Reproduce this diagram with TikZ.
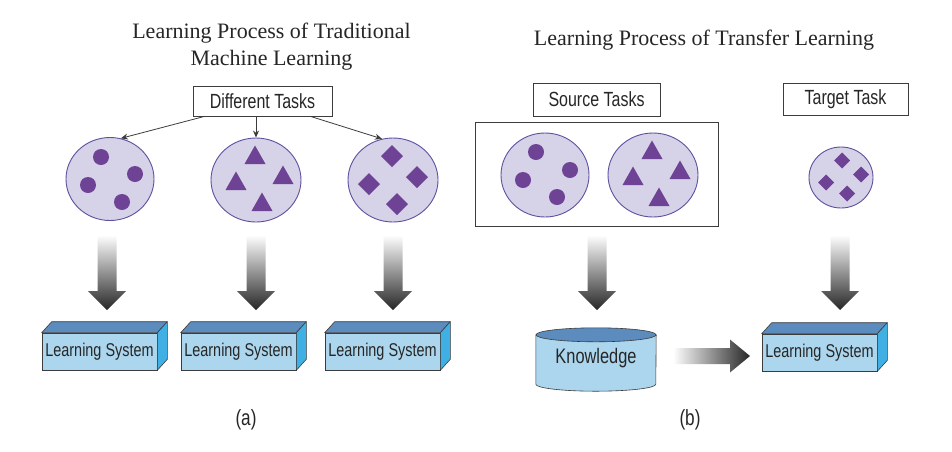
\documentclass[tikz,border=0pt]{standalone}
\usepackage{fontspec}
\setmainfont{Liberation Serif}
\newfontfamily\sfn[FakeStretch=0.78]{Liberation Sans}
\usetikzlibrary{shapes.geometric,arrows.meta,calc}
\definecolor{circfill}{RGB}{214,210,232}
\definecolor{circdraw}{RGB}{95,80,160}
\definecolor{shp}{RGB}{110,66,148}
\definecolor{lsfrontc}{RGB}{172,214,238}
\definecolor{lstopc}{RGB}{92,140,190}
\definecolor{lssidec}{RGB}{64,176,228}
\definecolor{edgec}{RGB}{60,60,60}
\begin{document}
\begin{tikzpicture}[x=1pt,y=-1pt,
  taskc/.style={ellipse, draw=circdraw, fill=circfill, line width=0.9pt, inner sep=0pt},
  lbox/.style={draw=edgec, line width=0.7pt, inner sep=0pt, font=\sfn\fontsize{20.5}{24}\selectfont, text=black!85},
  lsfront/.style={draw=edgec, fill=lsfrontc, line width=0.6pt, minimum width=115pt, minimum height=37pt, inner sep=0pt, font=\sfn\fontsize{18.5}{21}\selectfont, text=black!85},
  lstop/.style={draw=edgec, fill=lstopc, line width=0.6pt, line join=round},
  lsside/.style={draw=edgec, fill=lssidec, line width=0.6pt, line join=round},
  thinarrow/.style={draw=edgec, line width=0.8pt, -{Stealth[length=7pt,width=6pt]}},
  titlefont/.style={font=\fontsize{22}{27}\selectfont, text=black!85, align=center},
  pics/pdot/.style={code={\fill[shp] (0,0) circle (8);}},
  pics/ptri/.style={code={\fill[shp] (-10.5,7) -- (10.5,7) -- (0,-11.5) -- cycle;}},
  pics/pdia/.style={code={\fill[shp] (-#1,0) -- (0,-#1) -- (#1,0) -- (0,#1) -- cycle;}},
  pics/gdown/.style={code={\shade[top color=white, bottom color=black!85]
     (-9.5,-75) -- (9.5,-75) -- (9.5,-19) -- (19,-19) -- (0,0) -- (-19,-19) -- (-9.5,-19) -- cycle;}},
  pics/gright/.style={code={\shade[left color=white, right color=black!85]
     (-77,-8) -- (-20,-8) -- (-20,-16.5) -- (0,0) -- (-20,16.5) -- (-20,8) -- (-77,8) -- cycle;}}
]
\useasboundingbox[fill=white] (0,0) rectangle (952,451);

% titles
\node[titlefont] (t1) at (271.5,46.5) {Learning Process of Traditional\\Machine Learning};
\node[titlefont, anchor=base] (t2) at (704,45) {Learning Process of Transfer Learning};

% ---------- (a) ----------
\node[lbox, minimum width=139pt, minimum height=30pt] (dt) at (262.5,101) {Different Tasks};

\node[taskc, minimum width=88pt, minimum height=83pt] (c1) at (110,179) {};
\node[taskc, minimum width=90pt, minimum height=84pt] (c2) at (256,180) {};
\node[taskc, minimum width=90pt, minimum height=84pt] (c3) at (393,180) {};

\draw[thinarrow] ([xshift=12pt]dt.south west) -- (c1.75);
\draw[thinarrow] (dt.south -| c2.north) -- (c2.north);
\draw[thinarrow] ([xshift=-22pt]dt.south east) -- (c3.105);

\foreach \dx/\dy in {-9/-22, 25/-5, -22/6, 12/23} \pic at ($(c1)+(\dx,\dy)$) {pdot};
\foreach \dx/\dy in {-1/-23, -20/3, 27/-3, 6/24} \pic at ($(c2)+(\dx,\dy)$) {ptri};
\foreach \dx/\dy in {-1/-24, -24/4, 24/-3, 4/24} \pic at ($(c3)+(\dx,\dy)$) {pdia=11};

\pic at (107,310) {gdown};
\pic at (256,310) {gdown};
\pic at (393,310) {gdown};

\foreach \n/\x in {ls1/99.5, ls2/238.5, ls3/382.5} {
  \node[lsfront] (\n) at (\x,351.5) {Learning System};
  \filldraw[lstop] (\n.north west) -- ++(10,-11) -- ([shift={(10,-11)}]\n.north east) -- (\n.north east) -- cycle;
  \filldraw[lsside] (\n.north east) -- ++(10,-11) -- ([shift={(10,-11)}]\n.south east) -- (\n.south east) -- cycle;
}

\node[font=\sfn\fontsize{22}{24}\selectfont, text=black!85] (la) at (246,420) {(a)};

% ---------- (b) ----------
\node[lbox, minimum width=127pt, minimum height=33pt] (st) at (596.5,99.5) {Source Tasks};
\node[lbox, minimum width=125pt, minimum height=32pt] (tt) at (845.5,99) {Target Task};
\node[draw=edgec, line width=0.7pt, minimum width=243pt, minimum height=104pt, inner sep=0pt] (src) at (596.5,174) {};

\node[taskc, minimum width=88pt, minimum height=84pt] (ca) at (545,175) {};
\node[taskc, minimum width=90pt, minimum height=84pt] (cb) at (653,175) {};
\node[taskc, minimum width=64pt, minimum height=61pt] (ct) at (841,177.5) {};

\foreach \dx/\dy in {-9/-23, 25/-5, -22/5, 12/22} \pic at ($(ca)+(\dx,\dy)$) {pdot};
\foreach \dx/\dy in {-1/-23, -20/3, 27/-3, 6/24} \pic at ($(cb)+(\dx,\dy)$) {ptri};
\foreach \dx/\dy in {1/-17, -15/5, 20/-3, 6/16} \pic at ($(ct)+(\dx,\dy)$) {pdia=8};

\pic at (597,310) {gdown};
\pic at (840,310) {gdown};

% knowledge cylinder
\node[minimum width=120pt, minimum height=42pt, inner sep=0pt] (kn) at (596,356) {};
\filldraw[draw=edgec, fill=lsfrontc, line width=0.6pt]
  (kn.north west) -- ([yshift=-7pt]kn.south west) arc (180:360:60pt and 7pt) -- (kn.north east) -- cycle;
\filldraw[draw=edgec, fill=lstopc, line width=0.6pt] (kn.north) ellipse (60pt and 7pt);
\node[font=\sfn\fontsize{21}{24}\selectfont, text=black!85] (knt) at (596,358) {Knowledge};

\pic at (750,356) {gright};

\node[lsfront] (lsT) at (819.5,352.5) {Learning System};
\filldraw[lstop] (lsT.north west) -- ++(10,-11) -- ([shift={(10,-11)}]lsT.north east) -- (lsT.north east) -- cycle;
\filldraw[lsside] (lsT.north east) -- ++(10,-11) -- ([shift={(10,-11)}]lsT.south east) -- (lsT.south east) -- cycle;

\node[font=\sfn\fontsize{22}{24}\selectfont, text=black!85] (lb) at (690,420) {(b)};
\end{tikzpicture}
\end{document}
